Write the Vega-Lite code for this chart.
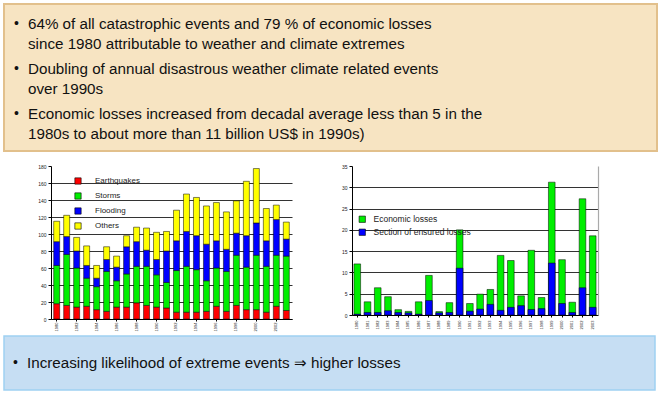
{
  "$schema": "https://vega.github.io/schema/vega-lite/v6.json",
  "padding": {"left": 3, "top": 3, "right": 0, "bottom": 0},
  "background": "white",
  "config": {"view": {"stroke": null}, "font": "Liberation Sans", "axis": {"labelColor": "#222", "domainColor": "#000", "tickColor": "#000"}},
  "spacing": 12,
  "resolve": {"scale": {"color": "independent"}, "legend": {"color": "independent"}},
  "vconcat": [
    {
      "width": 653,
      "height": 147,
      "view": {"fill": "#f7e4c2", "stroke": "#e2c08c", "strokeWidth": 2},
      "data": {"values": [
        {"item": 1, "text": "64% of all catastrophic events and 79 % of economic losses\nsince 1980 attributable to weather and climate extremes"},
        {"item": 2, "text": "Doubling of annual disastrous weather climate related events\nover 1990s"},
        {"item": 3, "text": "Economic losses increased from decadal average less than 5 in the\n1980s to about more than 11 billion US$ in 1990s)"}
      ]},
      "encoding": {"y": {"field": "item", "type": "ordinal", "axis": null, "scale": {"type": "point", "padding": 0.633}}},
      "layer": [
        {"mark": {"type": "text", "align": "left", "baseline": "middle", "lineBreak": "\n", "lineHeight": 20, "dy": -8.5, "fontSize": 15.2, "font": "Liberation Sans", "color": "#111"},
         "encoding": {"text": {"field": "text"}, "x": {"value": 24}}},
        {"mark": {"type": "text", "text": "•", "align": "left", "baseline": "middle", "dy": -8.5, "fontSize": 14, "color": "#111"},
         "encoding": {"x": {"value": 10}}}
      ]
    },
    {
      "spacing": 4,
      "resolve": {"scale": {"color": "independent"}, "legend": {"color": "independent"}},
      "vconcat": [
        {
          "spacing": 30,
          "resolve": {"scale": {"color": "independent"}, "legend": {"color": "independent"}},
          "hconcat": [
            {
              "width": 1,
              "height": 153,
              "data": {"values": []},
              "mark": {"type": "point", "opacity": 0}
            },
            {
              "width": 241,
              "height": 153,
              "data": {"values": [
                {"year": 1980, "Earthquakes": 18, "Storms": 45, "Flooding": 28, "Others": 24},
                {"year": 1981, "Earthquakes": 16, "Storms": 60, "Flooding": 21, "Others": 25},
                {"year": 1982, "Earthquakes": 14, "Storms": 46, "Flooding": 20, "Others": 16},
                {"year": 1983, "Earthquakes": 15, "Storms": 33, "Flooding": 15, "Others": 23},
                {"year": 1984, "Earthquakes": 11, "Storms": 27, "Flooding": 10, "Others": 15},
                {"year": 1985, "Earthquakes": 9, "Storms": 47, "Flooding": 14, "Others": 15},
                {"year": 1986, "Earthquakes": 14, "Storms": 31, "Flooding": 16, "Others": 13},
                {"year": 1987, "Earthquakes": 14, "Storms": 39, "Flooding": 32, "Others": 13},
                {"year": 1988, "Earthquakes": 19, "Storms": 43, "Flooding": 29, "Others": 17},
                {"year": 1989, "Earthquakes": 16, "Storms": 46, "Flooding": 19, "Others": 26},
                {"year": 1990, "Earthquakes": 14, "Storms": 38, "Flooding": 18, "Others": 32},
                {"year": 1991, "Earthquakes": 13, "Storms": 30, "Flooding": 37, "Others": 23},
                {"year": 1992, "Earthquakes": 8, "Storms": 49, "Flooding": 35, "Others": 36},
                {"year": 1993, "Earthquakes": 8, "Storms": 54, "Flooding": 41, "Others": 44},
                {"year": 1994, "Earthquakes": 8, "Storms": 50, "Flooding": 40, "Others": 45},
                {"year": 1995, "Earthquakes": 9, "Storms": 36, "Flooding": 43, "Others": 45},
                {"year": 1996, "Earthquakes": 15, "Storms": 45, "Flooding": 32, "Others": 45},
                {"year": 1997, "Earthquakes": 9, "Storms": 47, "Flooding": 26, "Others": 44},
                {"year": 1998, "Earthquakes": 16, "Storms": 59, "Flooding": 26, "Others": 38},
                {"year": 1999, "Earthquakes": 11, "Storms": 50, "Flooding": 37, "Others": 64},
                {"year": 2000, "Earthquakes": 11, "Storms": 64, "Flooding": 38, "Others": 64},
                {"year": 2001, "Earthquakes": 8, "Storms": 54, "Flooding": 30, "Others": 38},
                {"year": 2002, "Earthquakes": 15, "Storms": 60, "Flooding": 42, "Others": 17},
                {"year": 2003, "Earthquakes": 10, "Storms": 64, "Flooding": 20, "Others": 20}
              ]},
              "transform": [
                {"fold": ["Earthquakes", "Storms", "Flooding", "Others"], "as": ["type", "count"]},
                {"calculate": "indexof(['Earthquakes', 'Storms', 'Flooding', 'Others'], datum.type)", "as": "stackOrder"}
              ],
              "mark": {"type": "bar", "stroke": "#000", "strokeWidth": 0.5},
              "encoding": {
                "x": {"field": "year", "type": "ordinal", "scale": {"paddingInner": 0.4, "paddingOuter": 0.27},
                      "axis": {"values": [1980, 1982, 1984, 1986, 1988, 1990, 1992, 1994, 1996, 1998, 2000, 2002], "title": null, "labelAngle": 270, "labelFontSize": 4, "labelPadding": 1, "tickSize": 2}},
                "y": {"field": "count", "type": "quantitative", "stack": "zero", "scale": {"domain": [0, 180]},
                      "axis": {"values": [0, 20, 40, 60, 80, 100, 120, 140, 160, 180], "title": null, "grid": true, "gridColor": "#333", "gridOpacity": {"condition": {"test": "datum.value >= 180", "value": 0}, "value": 1}, "labelFontSize": 5, "tickSize": 3, "labelPadding": 2, "minExtent": 16, "maxExtent": 16}},
                "order": {"field": "stackOrder", "type": "quantitative", "sort": "ascending"},
                "color": {"field": "type", "type": "nominal", "sort": ["Earthquakes", "Storms", "Flooding", "Others"],
                          "scale": {"domain": ["Earthquakes", "Storms", "Flooding", "Others"], "range": ["#ff0000", "#00ee00", "#0000ff", "#ffff00"]},
                          "legend": {"orient": "none", "legendX": 23, "legendY": 11, "title": null, "symbolType": "square", "symbolSize": 40, "symbolStrokeColor": "#000", "symbolStrokeWidth": 0.6, "labelFontSize": 8, "labelColor": "#222", "rowPadding": 5, "labelOffset": 13}}
              }
            },
            {
              "width": 246,
              "height": 149,
              "data": {"values": [
                {"year": 1980, "Economic losses": 12, "Section of ensured losses": 0.2},
                {"year": 1981, "Economic losses": 3.1, "Section of ensured losses": 0.6},
                {"year": 1982, "Economic losses": 6.4, "Section of ensured losses": 0.6},
                {"year": 1983, "Economic losses": 4.3, "Section of ensured losses": 1.0},
                {"year": 1984, "Economic losses": 1.25, "Section of ensured losses": 0.6},
                {"year": 1985, "Economic losses": 0.85, "Section of ensured losses": 0.5},
                {"year": 1986, "Economic losses": 3.1, "Section of ensured losses": 0.2},
                {"year": 1987, "Economic losses": 9.3, "Section of ensured losses": 3.4},
                {"year": 1988, "Economic losses": 0.8, "Section of ensured losses": 0.5},
                {"year": 1989, "Economic losses": 2.9, "Section of ensured losses": 0.6},
                {"year": 1990, "Economic losses": 20, "Section of ensured losses": 11},
                {"year": 1991, "Economic losses": 2.7, "Section of ensured losses": 0.9},
                {"year": 1992, "Economic losses": 4.9, "Section of ensured losses": 1.4},
                {"year": 1993, "Economic losses": 6.0, "Section of ensured losses": 2.5},
                {"year": 1994, "Economic losses": 14, "Section of ensured losses": 1.1},
                {"year": 1995, "Economic losses": 12.8, "Section of ensured losses": 1.8},
                {"year": 1996, "Economic losses": 4.5, "Section of ensured losses": 2.2},
                {"year": 1997, "Economic losses": 15.2, "Section of ensured losses": 1.3},
                {"year": 1998, "Economic losses": 4.1, "Section of ensured losses": 1.5},
                {"year": 1999, "Economic losses": 31.2, "Section of ensured losses": 12.2},
                {"year": 2000, "Economic losses": 13, "Section of ensured losses": 2.7},
                {"year": 2001, "Economic losses": 3.0, "Section of ensured losses": 0.6},
                {"year": 2002, "Economic losses": 27.3, "Section of ensured losses": 6.4},
                {"year": 2003, "Economic losses": 18.6, "Section of ensured losses": 1.8}
              ]},
              "transform": [{"fold": ["Economic losses", "Section of ensured losses"], "as": ["series", "loss"]}],
              "resolve": {"axis": {"y": "independent"}},
              "layer": [
                {
                  "mark": {"type": "bar", "stroke": "#000", "strokeWidth": 0.5},
                  "encoding": {
                    "x": {"field": "year", "type": "ordinal", "scale": {"paddingInner": 0.35, "paddingOuter": 0.19},
                          "axis": {"title": null, "labelAngle": 270, "labelFontSize": 4, "labelPadding": 3, "tickSize": 2}},
                    "y": {"field": "loss", "type": "quantitative", "stack": null, "scale": {"domain": [0, 35]},
                          "axis": {"values": [0, 5, 10, 15, 20, 25, 30, 35], "title": null, "grid": true, "gridColor": "#333", "gridOpacity": {"condition": {"test": "datum.value >= 35", "value": 0}, "value": 1}, "labelFontSize": 5, "tickSize": 3, "labelPadding": 2, "minExtent": 30}},
                    "color": {"field": "series", "type": "nominal",
                              "scale": {"domain": ["Economic losses", "Section of ensured losses"], "range": ["#00ee00", "#0000ff"]},
                              "legend": {"orient": "none", "legendX": 6, "legendY": 49, "title": null, "symbolType": "square", "symbolSize": 40, "symbolStrokeColor": "#000", "symbolStrokeWidth": 0.6, "labelFontSize": 8.5, "labelColor": "#222", "rowPadding": 3, "labelOffset": 7}}
                  }
                },
                {
                  "mark": {"type": "bar", "opacity": 0},
                  "encoding": {
                    "y": {"field": "loss", "type": "quantitative", "stack": null,
                          "axis": {"orient": "right", "labels": false, "ticks": false, "grid": false, "title": null, "domainColor": "#aaa", "domainWidth": 1.2}}
                  }
                }
              ]
            }
          ]
        },
        {
          "width": 651,
          "height": 54,
          "view": {"fill": "#c6def3", "stroke": "#9fd1f2", "strokeWidth": 1.5},
          "data": {"values": [{"text": "Increasing likelihood of extreme events ⇒ higher losses"}]},
          "encoding": {"y": {"field": "text", "type": "nominal", "axis": null}},
          "layer": [
            {"mark": {"type": "text", "align": "left", "baseline": "middle", "fontSize": 15.2, "font": "Liberation Sans", "color": "#111"},
             "encoding": {"text": {"field": "text"}, "x": {"value": 23}}},
            {"mark": {"type": "text", "text": "•", "align": "left", "baseline": "middle", "fontSize": 14, "color": "#111"},
             "encoding": {"x": {"value": 9}}}
          ]
        }
      ]
    }
  ]
}
